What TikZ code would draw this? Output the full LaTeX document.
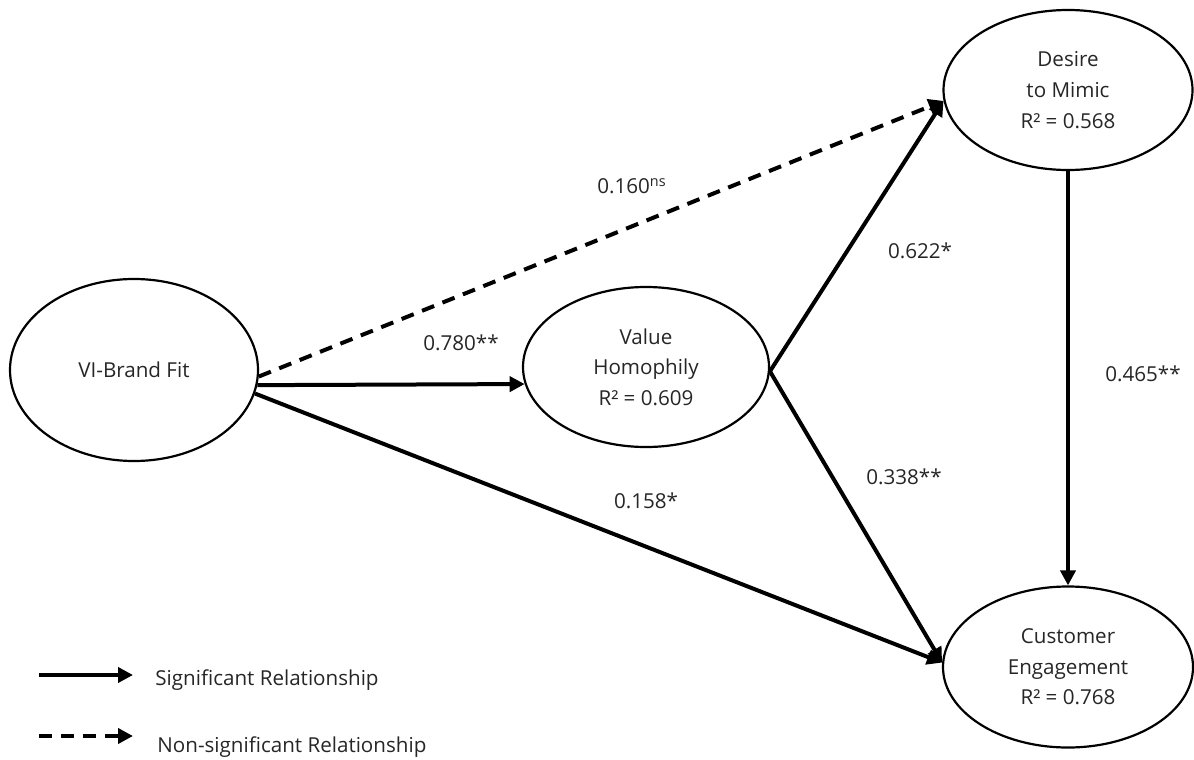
\documentclass[tikz,border=0pt]{standalone}
\usepackage{fontspec}
\setmainfont{Open Sans}
\usetikzlibrary{shapes.geometric,arrows.meta}

\begin{document}
\begin{tikzpicture}[x=0.5pt,y=-0.5pt,
    font=\fontsize{10.3pt}{15.3pt}\selectfont,
    construct/.style={ellipse,draw,line width=1.1pt,inner sep=0pt,align=center,text=black!85},
    sig/.style={line width=2pt,-{Triangle[length=7.5pt,width=7.5pt]}},
    nonsig/.style={sig,dash pattern=on 6.5pt off 4.5pt},
    coef/.style={text=black!85,inner sep=0pt}]
            \useasboundingbox (0,0) rectangle (1194,760);

            % Constructs
            \node[construct,minimum width=124pt,minimum height=91pt] (vibf) at (134,370) {VI-Brand Fit};
            \node[construct,minimum width=123pt,minimum height=80pt] (vh) at (646,367) {Value\\Homophily\\R² = 0.609};
            \node[construct,minimum width=124.5pt,minimum height=80pt] (dtm) at (1068,90) {Desire\\to Mimic\\R² = 0.568};
            \node[construct,minimum width=125pt,minimum height=80.5pt] (ce) at (1068,667) {Customer\\Engagement\\R² = 0.768};

            % Paths
            \draw[nonsig] (vibf.-3.7) -- (dtm.-175);
            \draw[sig] (vibf.-7.9) -- (vh.-172);
            \draw[sig] (vibf.-11.9) -- (ce.178);
            \draw[sig] (vh.-2) -- (dtm.-175);
            \draw[sig] (vh.-2) -- (ce.178);
            \draw[sig] (dtm.south) -- (ce.north);

            % Path coefficients
            \node[coef] (c160) at (632,186) {0.160\textsuperscript{ns}};
            \node[coef] (c780) at (461,343) {0.780**};
            \node[coef] (c158) at (646,501) {0.158*};
            \node[coef] (c622) at (920,251) {0.622*};
            \node[coef] (c338) at (904,477) {0.338**};
            \node[coef] (c465) at (1143,374) {0.465**};

            % Legend
            \coordinate (sigA) at (39,675);
            \coordinate (sigB) at (133,675);
            \coordinate (nsA) at (39,736);
            \coordinate (nsB) at (133,736);
            \draw[sig] (sigA) -- (sigB);
            \draw[nonsig] (nsA) -- (nsB);
            \node[coef,anchor=west] (sigtxt) at (155,680) {Significant Relationship};
            \node[coef,anchor=west] (nstxt) at (157,747) {Non-significant Relationship};
        \end{tikzpicture}
\end{document}
